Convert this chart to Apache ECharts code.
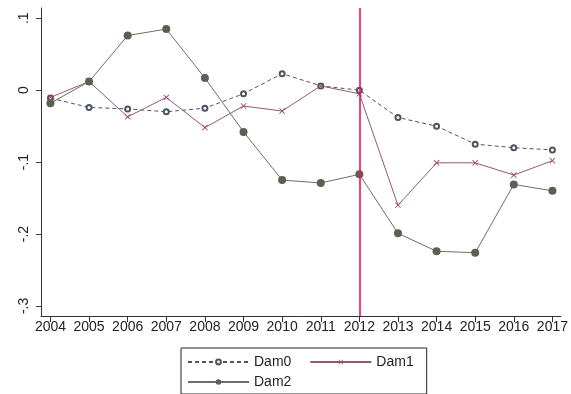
<!DOCTYPE html>
<html>
<head>
<meta charset="utf-8">
<script src="https://cdn.jsdelivr.net/npm/echarts@6/dist/echarts.min.js"></script>
<style>html,body{margin:0;padding:0;background:#fff}#c{width:571px;height:394px}</style>
</head>
<body>
<div id="c"></div>
<script>
const years = [2004, 2005, 2006, 2007, 2008, 2009, 2010, 2011, 2012, 2013, 2014, 2015, 2016, 2017];
const dam0 = [-0.011, -0.024, -0.026, -0.030, -0.025, -0.005, 0.023, 0.006, 0.000, -0.038, -0.050, -0.075, -0.080, -0.083];
const dam1 = [-0.010, 0.012, -0.037, -0.010, -0.052, -0.022, -0.029, 0.006, -0.005, -0.160, -0.101, -0.101, -0.118, -0.098];
const dam2 = [-0.018, 0.012, 0.076, 0.085, 0.017, -0.058, -0.125, -0.129, -0.117, -0.199, -0.224, -0.226, -0.131, -0.140];
const yTickValues = [-0.3, -0.2, -0.1, 0, 0.1];
const yTickLabels = ['-.3', '-.2', '-.1', '0', '.1'];
const eventYear = 2012;

const font = '"Liberation Sans", Arial, Helvetica, sans-serif';
const xCross = 'path://M0,1L1,0L5,4L9,0L10,1L6,5L10,9L9,10L5,6L1,10L0,9L4,5Z';
const pairs = arr => years.map((y, i) => [y, arr[i]]);

const chart = echarts.init(document.getElementById('c'), null, {renderer: 'canvas'});
chart.setOption({
  backgroundColor: '#ffffff',
  animation: false,
  grid: {left: 41, right: 8, top: 8, bottom: 78},
  xAxis: {
    type: 'value', min: 2003.755, max: 2017.217,
    splitLine: {show: false},
    axisLine: {onZero: false, lineStyle: {color: '#333', width: 1}},
    axisTick: {show: true, length: 6, customValues: years, lineStyle: {color: '#333'}},
    axisLabel: {customValues: years, formatter: v => String(Math.round(v)), color: '#222', fontSize: 14, fontFamily: font, margin: 4}
  },
  yAxis: {
    type: 'value', min: -0.314, max: 0.1143,
    splitLine: {show: false},
    axisLine: {show: true, onZero: false, lineStyle: {color: '#333', width: 1}},
    axisTick: {show: true, length: 5, customValues: yTickValues, lineStyle: {color: '#333'}},
    axisLabel: {
      customValues: yTickValues, rotate: 90, color: '#222', fontSize: 14, fontFamily: font, margin: 10,
      formatter: v => { const i = yTickValues.findIndex(t => Math.abs(t - v) < 1e-9); return i >= 0 ? yTickLabels[i] : ''; }
    }
  },
  legend: [
    {
      data: ['Dam0', 'Dam1'], left: 181, top: 348, orient: 'horizontal',
      itemWidth: 61, itemHeight: 6, itemGap: 18,
      padding: [7, 13, 25, 6],
      borderColor: '#222', borderWidth: 1, backgroundColor: '#fff',
      textStyle: {color: '#222', fontSize: 14, fontFamily: font}
    },
    {
      data: ['Dam2'], left: 187, top: 375, orient: 'horizontal',
      itemWidth: 61, itemHeight: 7, padding: 0,
      textStyle: {color: '#222', fontSize: 14, fontFamily: font}
    }
  ],
  series: [
    {
      name: 'Dam0', type: 'line', data: pairs(dam0),
      symbol: 'emptyCircle', symbolSize: 5,
      lineStyle: {color: '#4d5463', width: 1, type: [4, 3]},
      itemStyle: {color: '#4d5463', borderColor: '#4d5463', borderWidth: 1}
    },
    {
      name: 'Dam1', type: 'line', data: pairs(dam1),
      symbol: xCross, symbolSize: 6,
      lineStyle: {color: '#96596a', width: 1},
      itemStyle: {color: '#a2445f'}
    },
    {
      name: 'Dam2', type: 'line', data: pairs(dam2),
      symbol: 'circle', symbolSize: 8,
      lineStyle: {color: '#6e6e66', width: 1},
      itemStyle: {color: '#5b6152'}
    },
    {
      name: 'event', type: 'line', data: [], z: 5,
      markLine: {
        silent: true, symbol: 'none', label: {show: false},
        lineStyle: {color: '#e8145c', width: 1.6, type: 'solid', opacity: 1},
        emphasis: {disabled: true},
        data: [{xAxis: eventYear}]
      }
    }
  ]
});
</script>
</body>
</html>
